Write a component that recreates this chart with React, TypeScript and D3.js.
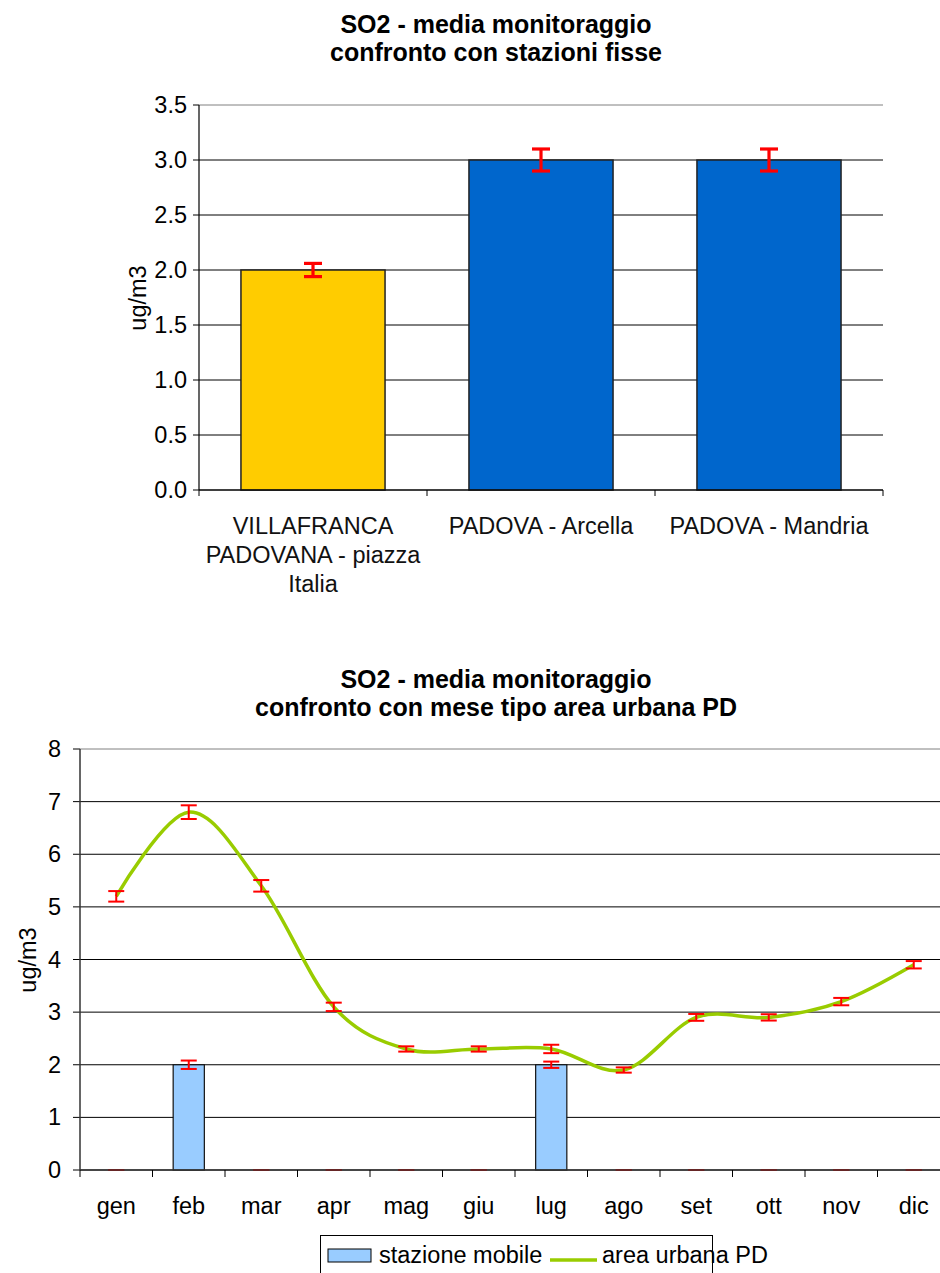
import React from "react";
import * as d3 from "d3";

const stations = ["VILLAFRANCA PADOVANA - piazza Italia", "PADOVA - Arcella", "PADOVA - Mandria"];
const stationLabelLines = [["VILLAFRANCA", "PADOVANA - piazza", "Italia"], ["PADOVA - Arcella"], ["PADOVA - Mandria"]];
const stationMeans = [2.0, 3.0, 3.0];
const stationErrors = [0.06, 0.1, 0.1];
const stationColors = ["#FFCC00", "#0066CC", "#0066CC"];
const topTicks = [0, 0.5, 1.0, 1.5, 2.0, 2.5, 3.0, 3.5];

const months = ["gen", "feb", "mar", "apr", "mag", "giu", "lug", "ago", "set", "ott", "nov", "dic"];
const mobileValues = [0, 2.0, 0, 0, 0, 0, 2.0, 0, 0, 0, 0, 0];
const mobileErrors = [0, 0.08, 0, 0, 0, 0, 0.06, 0, 0, 0, 0, 0];
const urbanValues = [5.2, 6.8, 5.4, 3.1, 2.3, 2.3, 2.3, 1.9, 2.9, 2.9, 3.2, 3.9];
const urbanErrors = [0.1, 0.13, 0.11, 0.08, 0.05, 0.05, 0.08, 0.05, 0.065, 0.06, 0.07, 0.07];
const bottomTicks = [0, 1, 2, 3, 4, 5, 6, 7, 8];

const FONT = "'Liberation Sans', Arial, sans-serif";
const TITLE = 25;
const LBL = 23.5;

function TopChart() {
  const x = d3.scaleBand<string>().domain(stations).range([199, 883]).paddingInner(0.368).paddingOuter(0.184);
  const y = d3.scaleLinear().domain([0, 3.5]).range([490, 105]);
  const step = x.step();
  const x0 = 199, x1 = 883;
  return (
    <g>
      <text x={496} y={33} textAnchor="middle" fontFamily={FONT} fontWeight="bold" fontSize={TITLE}>SO2 - media monitoraggio</text>
      <text x={496} y={61} textAnchor="middle" fontFamily={FONT} fontWeight="bold" fontSize={TITLE}>confronto con stazioni fisse</text>
      {topTicks.map((t, i) => (
        <g key={i}>
          <line x1={x0} x2={x1} y1={y(t)} y2={y(t)} stroke={t === 3.5 ? "#808080" : "#000"} strokeWidth={1} />
          <line x1={x0 - 6} x2={x0} y1={y(t)} y2={y(t)} stroke="#000" />
          <text x={187} y={y(t) + 8} textAnchor="end" fontFamily={FONT} fontSize={LBL}>{t.toFixed(1)}</text>
        </g>
      ))}
      {stations.map((s, i) => (
        <rect key={s} x={x(s)!} y={y(stationMeans[i])} width={x.bandwidth()} height={y(0) - y(stationMeans[i])}
          fill={stationColors[i]} stroke="#222" strokeWidth={1.5} />
      ))}
      {stations.map((s, i) => {
        const cx = x(s)! + x.bandwidth() / 2;
        const hi = y(stationMeans[i] + stationErrors[i]);
        const lo = y(stationMeans[i] - stationErrors[i]);
        return (
          <g key={s} stroke="#FF0000" strokeWidth={3.2}>
            <line x1={cx} x2={cx} y1={hi} y2={lo} />
            <line x1={cx - 9} x2={cx + 9} y1={hi} y2={hi} />
            <line x1={cx - 9} x2={cx + 9} y1={lo} y2={lo} />
          </g>
        );
      })}
      <line x1={x0} x2={x0} y1={y(3.5)} y2={y(0)} stroke="#000" strokeWidth={1.2} />
      <line x1={x0} x2={x1} y1={y(0)} y2={y(0)} stroke="#000" strokeWidth={1.2} />
      {d3.range(stations.length + 1).map((i) => (
        <line key={i} x1={x0 + i * step} x2={x0 + i * step} y1={y(0)} y2={y(0) + 6} stroke="#000" />
      ))}
      {stations.map((s, i) => (
        <text key={s} textAnchor="middle" fontFamily={FONT} fontSize={LBL} fill="#111">
          {stationLabelLines[i].map((ln, j) => (
            <tspan key={j} x={x(s)! + x.bandwidth() / 2} y={534 + j * 29}>{ln}</tspan>
          ))}
        </text>
      ))}
      <text transform={`translate(146,298) rotate(-90)`} textAnchor="middle" fontFamily={FONT} fontSize={LBL}>ug/m3</text>
    </g>
  );
}

function BottomChart() {
  const x = d3.scaleBand<string>().domain(months).range([80, 950]).paddingInner(0.57).paddingOuter(0.285);
  const y = d3.scaleLinear().domain([0, 8]).range([1170, 749]);
  const step = x.step();
  const x0 = 80, x1 = 950;
  const cx = (m: string) => x(m)! + x.bandwidth() / 2;
  const line = d3.line<number>()
    .x((_, i) => cx(months[i]))
    .y((v) => y(v))
    .curve(d3.curveCardinal.tension(0));
  const bar = (c: number, hi: number, lo: number, key: string) => (
    <g key={key} stroke="#FF0000" strokeWidth={2}>
      <line x1={c} x2={c} y1={hi} y2={lo} />
      <line x1={c - 8} x2={c + 8} y1={hi} y2={hi} />
      <line x1={c - 8} x2={c + 8} y1={lo} y2={lo} />
    </g>
  );
  return (
    <g>
      <text x={496} y={688} textAnchor="middle" fontFamily={FONT} fontWeight="bold" fontSize={TITLE}>SO2 - media monitoraggio</text>
      <text x={496} y={716} textAnchor="middle" fontFamily={FONT} fontWeight="bold" fontSize={TITLE}>confronto con mese tipo area urbana PD</text>
      {bottomTicks.map((t) => (
        <g key={t}>
          <line x1={x0} x2={x1} y1={y(t)} y2={y(t)} stroke={t === 8 ? "#808080" : "#000"} strokeWidth={1} />
          <line x1={x0 - 7} x2={x0} y1={y(t)} y2={y(t)} stroke="#000" />
          <text x={61} y={y(t) + 8} textAnchor="end" fontFamily={FONT} fontSize={LBL}>{t}</text>
        </g>
      ))}
      {months.map((m, i) => mobileValues[i] > 0 ? (
        <rect key={m} x={x(m)!} y={y(mobileValues[i])} width={x.bandwidth()} height={y(0) - y(mobileValues[i])}
          fill="#99CCFF" stroke="#111" strokeWidth={1.2} />
      ) : null)}
      {months.map((m, i) => bar(cx(m), y(mobileValues[i] + mobileErrors[i]), y(mobileValues[i] - mobileErrors[i]), "b" + m))}
      <path d={line(urbanValues)!} fill="none" stroke="#99CC00" strokeWidth={3.5} />
      {months.map((m, i) => bar(cx(m), y(urbanValues[i] + urbanErrors[i]), y(urbanValues[i] - urbanErrors[i]), "u" + m))}
      <line x1={x0} x2={x0} y1={y(8)} y2={y(0)} stroke="#333" strokeWidth={1.5} />
      <line x1={x0} x2={x1} y1={y(0)} y2={y(0)} stroke="#333" strokeWidth={1.5} />
      {d3.range(months.length + 1).map((i) => (
        <line key={i} x1={x0 + i * step} x2={x0 + i * step} y1={y(0)} y2={y(0) + 7} stroke="#000" />
      ))}
      {months.map((m) => (
        <text key={m} x={cx(m)} y={1214} textAnchor="middle" fontFamily={FONT} fontSize={LBL}>{m}</text>
      ))}
      <text transform={`translate(36,960) rotate(-90)`} textAnchor="middle" fontFamily={FONT} fontSize={LBL}>ug/m3</text>
      <rect x={320.5} y={1235.5} width={392} height={45} fill="#fff" stroke="#000" strokeWidth={1} />
      <rect x={328} y={1249} width={43} height={13} fill="#99CCFF" stroke="#000" strokeWidth={1} />
      <text x={379} y={1263} fontFamily={FONT} fontSize={LBL}>stazione mobile</text>
      <line x1={550} x2={597} y1={1260} y2={1260} stroke="#99CC00" strokeWidth={3.5} />
      <text x={602} y={1263} fontFamily={FONT} fontSize={LBL}>area urbana PD</text>
    </g>
  );
}

export default function App() {
  return (
    <svg width={940} height={1273} style={{ position: "absolute", left: 0, top: 0, background: "#fff" }}>
      <rect width={940} height={1273} fill="#fff" />
      <TopChart />
      <BottomChart />
    </svg>
  );
}
